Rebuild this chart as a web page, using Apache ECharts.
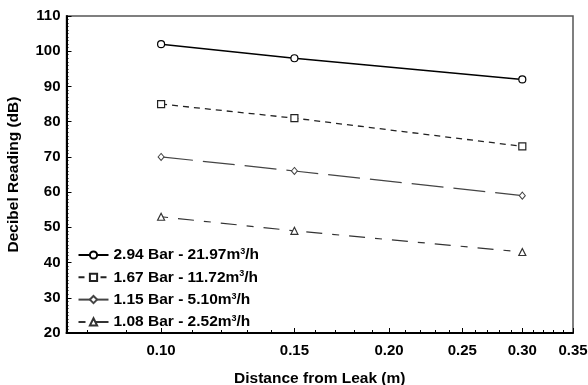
<!DOCTYPE html>
<html><head><meta charset="utf-8">
<script src="https://cdn.jsdelivr.net/npm/echarts@6/dist/echarts.min.js"></script>
<style>html,body{margin:0;padding:0;background:#fff}#c{width:588px;height:385px}</style>
</head><body><div id="c"></div>
<script>
const distances = [0.10, 0.15, 0.30];
const seriesNames = ['2.94 Bar - 21.97m3/h', '1.67 Bar - 11.72m3/h', '1.15 Bar - 5.10m3/h', '1.08 Bar - 2.52m3/h'];
const s294 = [102, 98, 92];
const s167 = [85, 81, 73];
const s115 = [70, 66, 59];
const s108 = [53, 49, 43];
const xTickLabels = [0.10, 0.15, 0.20, 0.25, 0.30, 0.35];
const xMinorTicks = [0.08, 0.09, 0.11, 0.12, 0.13, 0.14, 0.16, 0.17, 0.18, 0.19, 0.21, 0.22, 0.23, 0.24, 0.26, 0.27, 0.28, 0.29, 0.31, 0.32, 0.33, 0.34];

const FONT = 'Liberation Sans';
const pairs = vals => distances.map((d, i) => [d, vals[i]]);

const baseX = {
  type: 'log', logBase: 10, min: 0.075, max: 0.35, position: 'bottom',
  axisLine: { show: false }, splitLine: { show: false }, minorTick: { show: false }
};

const option = {
  animation: false,
  backgroundColor: '#fff',
  grid: { left: 66.5, right: 15, top: 16, bottom: 52, show: true, borderColor: '#555', borderWidth: 1.5, backgroundColor: 'transparent',
    outerBoundsMode: 'none', containLabel: false },
  legend: {
    orient: 'vertical', left: 72.5, top: 242, itemWidth: 30, itemHeight: 9, itemGap: 6.3,
    textStyle: { fontFamily: FONT, fontWeight: 'bold', fontSize: 15.5, color: '#000',
      rich: { sup: { fontFamily: FONT, fontWeight: 'bold', fontSize: 9, color: '#000', verticalAlign: 'top', lineHeight: 15, padding: [0, 0, 6, 0] } } },
    formatter: n => n.replace('m3/h', 'm{sup|3}/h'),
    data: seriesNames
  },
  xAxis: [
    Object.assign({}, baseX, {
      name: 'Distance from Leak (m)', nameLocation: 'middle', nameGap: 38,
      nameTextStyle: { fontFamily: FONT, fontWeight: 'bold', fontSize: 15.5, color: '#000' },
      axisLine: { show: true, onZero: false, lineStyle: { color: '#000', width: 2 } },
      axisTick: { show: true, inside: true, length: 5, customValues: xTickLabels, lineStyle: { color: '#000', width: 1 } },
      axisLabel: { show: true, margin: 10, customValues: xTickLabels, fontFamily: FONT, fontWeight: 'bold', fontSize: 15, color: '#000',
        formatter: v => Number(v).toFixed(2) }
    }),
    Object.assign({}, baseX, {
      axisTick: { show: true, inside: true, length: 3, customValues: xMinorTicks, lineStyle: { color: '#000', width: 1 } },
      axisLabel: { show: false }
    })
  ],
  yAxis: {
    type: 'value', min: 20, max: 110, interval: 10,
    name: 'Decibel Reading (dB)', nameLocation: 'middle', nameGap: 45,
    nameTextStyle: { fontFamily: FONT, fontWeight: 'bold', fontSize: 15.5, color: '#000' },
    axisLine: { show: true, lineStyle: { color: '#000', width: 2 } },
    axisTick: { show: true, inside: true, length: 5, lineStyle: { color: '#000', width: 1 } },
    minorTick: { show: true, splitNumber: 10, length: 2, lineStyle: { color: '#000', width: 1 } },
    splitLine: { show: false },
    axisLabel: { margin: 6, fontFamily: FONT, fontWeight: 'bold', fontSize: 15, color: '#000' }
  },
  series: [
    { name: seriesNames[0], type: 'line', xAxisIndex: 0, data: pairs(s294), symbol: 'circle', symbolSize: 7,
      lineStyle: { color: '#000', width: 1.5, type: 'solid' },
      itemStyle: { color: '#fff', borderColor: '#000', borderWidth: 1.2 } },
    { name: seriesNames[1], type: 'line', xAxisIndex: 0, data: pairs(s167), symbol: 'rect', symbolSize: 7,
      lineStyle: { color: '#222', width: 1.3, type: [6, 5] },
      itemStyle: { color: '#fff', borderColor: '#222', borderWidth: 1.2 } },
    { name: seriesNames[2], type: 'line', xAxisIndex: 0, data: pairs(s115), symbol: 'diamond', symbolSize: [6, 7],
      lineStyle: { color: '#444', width: 1.2, type: [32, 10] },
      itemStyle: { color: '#fff', borderColor: '#444', borderWidth: 1 } },
    { name: seriesNames[3], type: 'line', xAxisIndex: 0, data: pairs(s108), symbol: 'triangle', symbolSize: 7,
      lineStyle: { color: '#333', width: 1.2, type: [7, 10, 16, 10] },
      itemStyle: { color: '#fff', borderColor: '#333', borderWidth: 1.2 } }
  ]
};
const chart = echarts.init(document.getElementById('c'), null, { renderer: 'canvas' });
chart.setOption(option);
</script></body></html>
